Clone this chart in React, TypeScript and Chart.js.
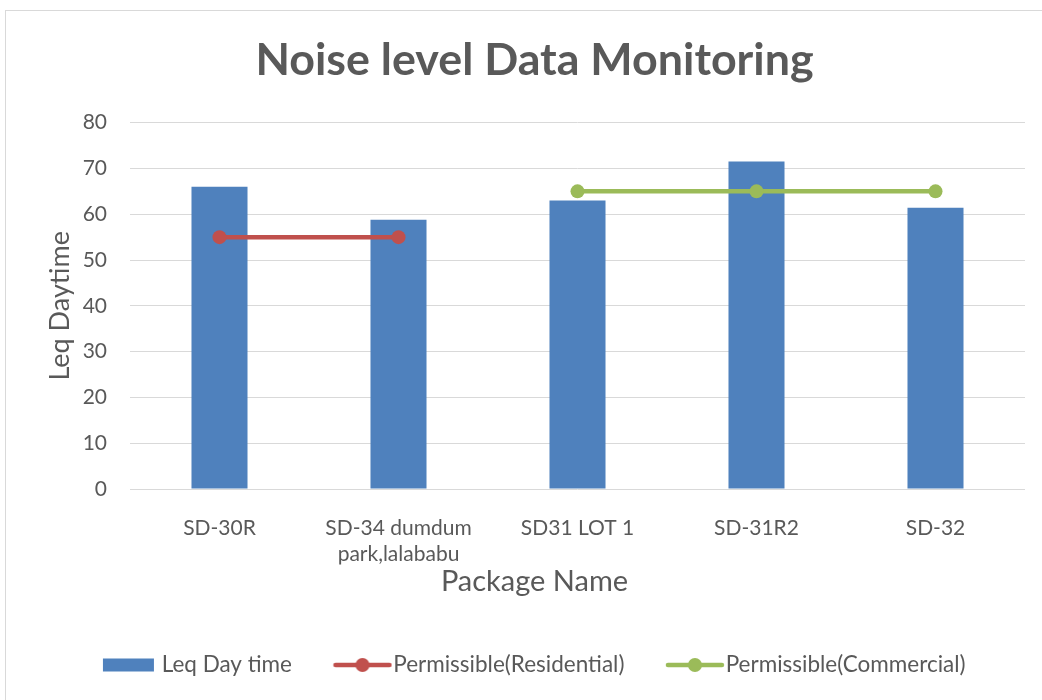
import React, { useEffect, useRef } from "react";
import { Chart, registerables } from "chart.js";

Chart.register(...registerables);

const categories: (string | string[])[] = [
  "SD-30R",
  ["SD-34 dumdum", "park,lalababu"],
  "SD31 LOT 1",
  "SD-31R2",
  "SD-32",
];
const leqDayTime = [66, 58.8, 63, 71.5, 61.4];
const permissibleResidential = [55, 55, null, null, null];
const permissibleCommercial = [null, null, 65, 65, 65];
const yMin = 0;
const yMax = 80;
const yStep = 10;

const TEXT = "#595959";
const GRID = "#d9d9d9";
const BLUE = "#4f81bd";
const RED = "#c0504d";
const GREEN = "#9bbb59";
const FONT = "Lato";

function makeIcon(kind: "bar" | "line", color: string): HTMLCanvasElement {
  const c = document.createElement("canvas");
  c.width = 68;
  c.height = 16;
  const ctx = c.getContext("2d")!;
  ctx.fillStyle = color;
  ctx.strokeStyle = color;
  if (kind === "bar") {
    ctx.fillRect(10, 1.5, 51, 13);
  } else {
    ctx.lineWidth = 4.5;
    ctx.lineCap = "round";
    ctx.beginPath();
    ctx.moveTo(11, 8);
    ctx.lineTo(65, 8);
    ctx.stroke();
    ctx.beginPath();
    ctx.arc(38, 8, 7, 0, Math.PI * 2);
    ctx.fill();
  }
  return c;
}

export default function App() {
  const ref = useRef<HTMLCanvasElement | null>(null);

  useEffect(() => {
    if (!ref.current) return;
    const icons = [makeIcon("bar", BLUE), makeIcon("line", RED), makeIcon("line", GREEN)];
    const chart = new Chart(ref.current, {
      type: "bar",
      data: {
        labels: categories as any,
        datasets: [
          {
            type: "bar",
            label: "Leq Day time",
            data: leqDayTime,
            backgroundColor: BLUE,
            borderWidth: 0,
            categoryPercentage: 1,
            barPercentage: 0.313,
            order: 2,
          },
          {
            type: "line",
            label: "Permissible(Residential)",
            data: permissibleResidential as any,
            borderColor: RED,
            backgroundColor: RED,
            borderWidth: 4.5,
            pointRadius: 7,
            pointBackgroundColor: RED,
            pointBorderWidth: 0,
            fill: false,
            tension: 0,
            order: 1,
          },
          {
            type: "line",
            label: "Permissible(Commercial)",
            data: permissibleCommercial as any,
            borderColor: GREEN,
            backgroundColor: GREEN,
            borderWidth: 4.5,
            pointRadius: 7,
            pointBackgroundColor: GREEN,
            pointBorderWidth: 0,
            fill: false,
            tension: 0,
            order: 1,
          },
        ],
      },
      options: {
        responsive: false,
        animation: false,
        devicePixelRatio: 1,
        layout: { padding: { left: 44, right: 17, top: 0, bottom: 13.75 } },
        plugins: {
          tooltip: { enabled: false },
          title: {
            display: true,
            text: "Noise level Data Monitoring",
            color: TEXT,
            font: { family: FONT, size: 44.8, weight: "bold", lineHeight: 1.2 },
            padding: { top: 33.5, bottom: 35.4 },
          },
          subtitle: {
            display: true,
            position: "bottom",
            weight: 500,
            text: "Package Name",
            color: TEXT,
            font: { family: FONT, size: 29, weight: "normal", lineHeight: 1.2 },
            padding: { top: 0, bottom: 11.35 },
          } as any,
          legend: {
            display: true,
            position: "bottom",
            align: "center",
            labels: {
              usePointStyle: true,
              pointStyleWidth: 47,
              boxHeight: 16,
              padding: 43,
              color: TEXT,
              font: { family: FONT, size: 22.5 },
              generateLabels: (ch: any) =>
                ch.data.datasets.map((ds: any, i: number) => ({
                  text: ds.label,
                  fillStyle: ds.backgroundColor,
                  strokeStyle: ds.backgroundColor,
                  lineWidth: 0,
                  pointStyle: icons[i],
                  hidden: false,
                  datasetIndex: i,
                  fontColor: TEXT,
                })),
            },
          },
        },
        scales: {
          x: {
            grid: { display: false },
            border: { display: false },
            ticks: {
              color: TEXT,
              font: { family: FONT, size: 21, lineHeight: 1.25 },
              padding: 18,
              maxRotation: 0,
              minRotation: 0,
              autoSkip: false,
            },
            afterFit: (s: any) => {
              s.height = 75.6;
            },
          },
          y: {
            min: yMin,
            max: yMax,
            grid: { color: GRID, lineWidth: 1, drawTicks: false },
            border: { display: false },
            ticks: {
              stepSize: yStep,
              color: TEXT,
              font: { family: FONT, size: 21 },
              padding: 23,
            },
            title: {
              display: true,
              text: "Leq Daytime",
              color: TEXT,
              font: { family: FONT, size: 27, lineHeight: 1.2 },
              padding: { top: 0, bottom: 0 },
            },
            afterFit: (s: any) => {
              s.width = 86;
            },
          },
        },
      } as any,
    });
    return () => chart.destroy();
  }, []);

  return (
    <div style={{ position: "absolute", left: 0, top: 0, width: 1042, height: 700, background: "#fff" }}>
      <div
        style={{
          position: "absolute",
          left: 5,
          top: 10,
          width: 1037,
          height: 690,
          borderLeft: "1px solid #d9d9d9",
          borderTop: "1px solid #d9d9d9",
          boxSizing: "border-box",
        }}
      />
      <canvas ref={ref} width={1042} height={700} style={{ position: "absolute", left: 0, top: 0 }} />
    </div>
  );
}
